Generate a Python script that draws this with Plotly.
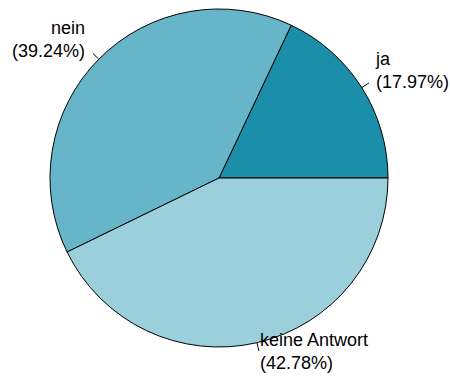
import math
import plotly.graph_objects as go

# Survey answers and their shares (percent)
labels = ["ja", "nein", "keine Antwort"]
shares = [17.97, 39.24, 42.78]
colors = ["#1b8eaa", "#67b5c9", "#9bcfdc"]

W, H = 450, 376
cx, cy, R = 219, 178, 169  # pie centre and radius in pixels

total = sum(shares)
# Plotly ends the first counterclockwise slice at `rotation`; shift it so
# the first slice starts at 3 o'clock instead.
rotation = 90 - 360 * shares[0] / total

fig = go.Figure(go.Pie(
    labels=labels,
    values=shares,
    sort=False,
    direction="counterclockwise",
    rotation=rotation,
    marker=dict(colors=colors, line=dict(color="black", width=1)),
    textinfo="none",
    hoverinfo="label+percent",
    domain=dict(x=[(cx - R) / W, (cx + R) / W],
                y=[1 - (cy + R) / H, 1 - (cy - R) / H]),
    showlegend=False,
))

def to_paper(px, py):
    return px / W, 1 - py / H

shapes, annotations = [], []
start = 0.0
for lab, val in zip(labels, shares):
    mid = 2 * math.pi * (start + val / 2) / total
    start += val
    c, s = math.cos(mid), math.sin(mid)
    x0, y0 = to_paper(cx + R * c, cy - R * s)
    x1, y1 = to_paper(cx + 1.05 * R * c, cy - 1.05 * R * s)
    shapes.append(dict(type="line", xref="paper", yref="paper",
                       x0=x0, y0=y0, x1=x1, y1=y1,
                       line=dict(color="black", width=1)))
    tx, ty = to_paper(cx + 1.1 * R * c, cy - 1.1 * R * s)
    side = "left" if c > 0 else "right"
    annotations.append(dict(
        xref="paper", yref="paper", x=tx, y=ty,
        text=f"{lab}<br>({val:.2f}%)",
        showarrow=False, xanchor=side, yanchor="middle", align=side,
        xshift=-3 if side == "left" else 0, yshift=8,
        font=dict(family="Liberation Sans, Arial", size=18, color="black"),
    ))

fig.update_layout(
    width=W, height=H,
    margin=dict(l=0, r=0, t=0, b=0),
    paper_bgcolor="white",
    plot_bgcolor="white",
    shapes=shapes,
    annotations=annotations,
)

fig.write_html("out.html")
